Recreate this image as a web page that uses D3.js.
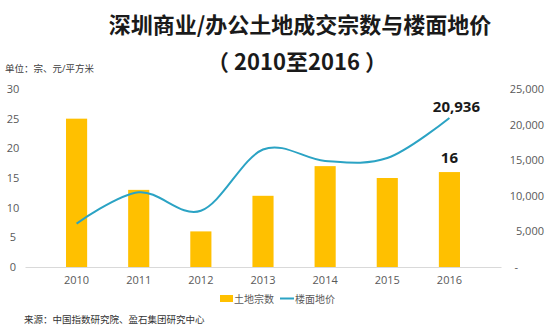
<!DOCTYPE html>
<html><head><meta charset="utf-8">
<script src="https://cdn.jsdelivr.net/npm/d3@7"></script>
<style>body{margin:0;background:#fff}svg{display:block}</style>
</head><body><svg id="c" width="550" height="331"></svg>
<script>
const years = ["2010","2011","2012","2013","2014","2015","2016"];
const landCount = [25, 13, 6, 12, 17, 15, 16];
const floorPrice = [6100, 10500, 7900, 16500, 14900, 15300, 20936];
const leftTicks = [0, 5, 10, 15, 20, 25, 30];
const rightTicks = [0, 5000, 10000, 15000, 20000, 25000];
const seriesNames = ["土地宗数", "楼面地价"];

const font = "'Open Sans','Noto Sans CJK SC',sans-serif";
const svg = d3.select("#c");
const x = d3.scaleBand().domain(years).range([25, 501]).padding(0.66);
const xc = d => x(d) + x.bandwidth() / 2;
const yL = d3.scaleLinear().domain([0, 30]).range([267, 89]);
const yR = d3.scaleLinear().domain([0, 25000]).range([267, 89]);

svg.append("text").attr("x", 300).attr("y", 33).attr("text-anchor", "middle")
  .attr("font-family", "'Noto Sans CJK SC',sans-serif").attr("font-weight", "bold")
  .attr("font-size", 22).attr("fill", "#1a1a1a").text("深圳商业/办公土地成交宗数与楼面地价");
svg.append("text").attr("x", 297).attr("y", 70).attr("text-anchor", "middle")
  .attr("font-family", "'Noto Sans CJK SC',sans-serif").attr("font-weight", "bold")
  .attr("font-size", 22).attr("fill", "#1a1a1a").text("（ 2010至2016 ）");
svg.append("text").attr("x", 5).attr("y", 72).attr("font-family", font)
  .attr("font-size", 9.5).attr("fill", "#404040").text("单位：宗、元/平方米");

// axes
const gx = svg.append("g").attr("transform", "translate(0,267)")
  .call(d3.axisBottom(x).tickSize(0).tickPadding(9));
gx.select(".domain").attr("stroke", "#d9d9d9");
gx.selectAll("text").attr("font-family", font).attr("font-size", 11).attr("fill", "#595959");

const gl = svg.append("g").attr("transform", "translate(13,0)")
  .call(d3.axisLeft(yL).tickValues(leftTicks).tickSize(0).tickPadding(0));
gl.select(".domain").remove();
gl.selectAll("text").attr("text-anchor", "middle").attr("font-family", font)
  .attr("font-size", 11).attr("fill", "#595959");

const gr = svg.append("g").attr("transform", "translate(544,0)")
  .call(d3.axisRight(yR).tickValues(rightTicks).tickSize(0).tickPadding(0)
    .tickFormat(d => d === 0 ? "-" : d3.format(",")(d)));
gr.select(".domain").remove();
gr.selectAll("text").attr("text-anchor", "end").attr("font-family", font)
  .attr("font-size", 11).attr("fill", "#595959");
gr.selectAll(".tick").filter(d => d === 0).select("text").attr("dx", -26);

// bars
svg.append("g").selectAll("rect").data(years).join("rect")
  .attr("x", d => x(d)).attr("width", x.bandwidth())
  .attr("y", (d, i) => yL(landCount[i])).attr("height", (d, i) => yL(0) - yL(landCount[i]))
  .attr("fill", "#FFC000");

// line
const line = d3.line().x((d, i) => xc(years[i])).y(d => yR(d)).curve(d3.curveCardinal.tension(0));
svg.append("path").datum(floorPrice).attr("d", line).attr("fill", "none")
  .attr("stroke", "#2BA3C4").attr("stroke-width", 2);

// labels
const li = years.length - 1;
svg.append("text").attr("x", xc(years[li]) + 7).attr("y", yR(floorPrice[li]) - 6)
  .attr("text-anchor", "middle").attr("font-family", font).attr("font-weight", "bold")
  .attr("font-size", 15).attr("fill", "#1a1a1a").text(d3.format(",")(floorPrice[li]));
svg.append("text").attr("x", xc(years[li])).attr("y", yL(landCount[li]) - 9)
  .attr("text-anchor", "middle").attr("font-family", font).attr("font-weight", "bold")
  .attr("font-size", 15).attr("fill", "#1a1a1a").text(landCount[li]);

// legend
const lg = svg.append("g");
lg.append("rect").attr("x", 220).attr("y", 295).attr("width", 13).attr("height", 7).attr("fill", "#FFC000");
lg.append("text").attr("x", 234).attr("y", 302.5).attr("font-family", font).attr("font-size", 10)
  .attr("fill", "#595959").text(seriesNames[0]);
lg.append("line").attr("x1", 280).attr("x2", 294).attr("y1", 298.5).attr("y2", 298.5)
  .attr("stroke", "#2BA3C4").attr("stroke-width", 2);
lg.append("text").attr("x", 295).attr("y", 302.5).attr("font-family", font).attr("font-size", 10)
  .attr("fill", "#595959").text(seriesNames[1]);

svg.append("text").attr("x", 24).attr("y", 323).attr("font-family", font).attr("font-size", 9.5)
  .attr("fill", "#333").text("来源：中国指数研究院、盈石集团研究中心");
</script></body></html>
